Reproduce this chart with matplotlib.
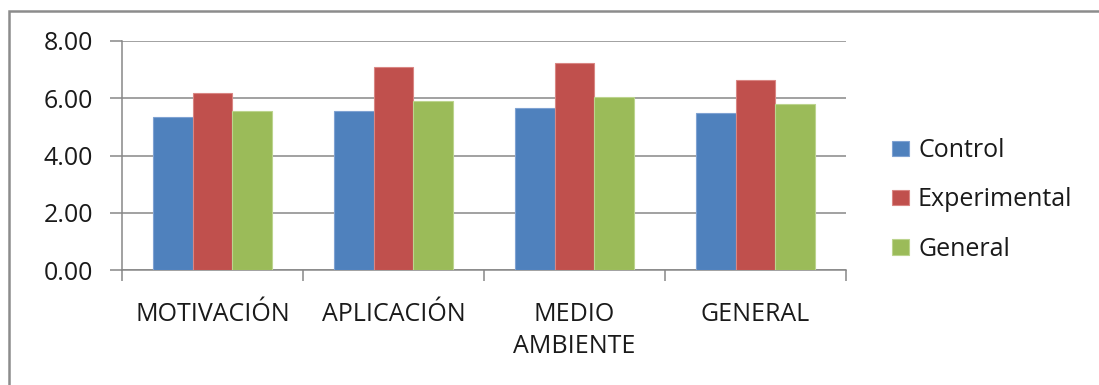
import matplotlib
matplotlib.use("Agg")
import matplotlib.pyplot as plt
import numpy as np
from matplotlib.patches import Rectangle
from matplotlib.ticker import FormatStrFormatter, FixedLocator

plt.rcParams['font.family'] = ['Open Sans', 'DejaVu Sans']

categories = ["MOTIVACIÓN", "APLICACIÓN", "MEDIO\nAMBIENTE", "GENERAL"]
series_names = ["Control", "Experimental", "General"]
control = [5.34, 5.57, 5.65, 5.48]
experimental = [6.20, 7.10, 7.23, 6.64]
general = [5.57, 5.92, 6.06, 5.79]
series_values = [control, experimental, general]
colors = ["#4F81BD", "#C0504D", "#9BBB59"]
edges = ["#7FA2D2", "#D98683", "#BCD48E"]

grid_color = "#878787"
font_size = 18

fig = plt.figure(figsize=(10.99, 3.85), dpi=100)
fig.patch.set_facecolor("white")

# outer chart frame
fig.patches.append(Rectangle((8.5 / 1099, -0.05), 1.2, 1 - 10.5 / 385 + 0.05,
                             transform=fig.transFigure, fill=False,
                             edgecolor="#8C8C8C", linewidth=1.8))

ax = fig.add_axes([122 / 1099, 1 - 270 / 385, (846 - 122) / 1099, (270 - 41) / 385])

x = np.arange(len(categories))
bar_w = 0.22
offsets = [-bar_w, 0, bar_w]
for vals, name, c, e, off in zip(series_values, series_names, colors, edges, offsets):
    ax.bar(x + off, vals, width=bar_w, color=c, edgecolor=e, linewidth=0.8,
           label=name, zorder=3)

ax.set_xlim(-0.5, len(categories) - 0.5)
ax.set_ylim(0, 8)
ax.set_yticks(np.arange(0, 8.01, 2))
ax.yaxis.set_major_formatter(FormatStrFormatter("%.2f"))
ax.yaxis.grid(True, color=grid_color, linewidth=1.1, zorder=0)
ax.set_axisbelow(True)

ax.set_xticks(x)
ax.set_xticklabels(categories, fontsize=font_size, linespacing=1.38)
ax.xaxis.set_minor_locator(FixedLocator(np.arange(-0.5, len(categories), 1.0)))
ax.tick_params(axis="x", which="major", length=0, pad=23)
ax.tick_params(axis="x", which="minor", length=8, width=1.1, color=grid_color,
               direction="out")
ax.tick_params(axis="y", length=9, width=1.1, color=grid_color, pad=12,
               labelsize=font_size)

for side in ["top", "right"]:
    ax.spines[side].set_visible(False)
for side in ["left", "bottom"]:
    ax.spines[side].set_color(grid_color)
    ax.spines[side].set_linewidth(1.1)

for lbl in ax.get_xticklabels() + ax.get_yticklabels():
    lbl.set_color("#1A1A1A")

leg = fig.legend(loc="center left", bbox_to_anchor=(892 / 1099, 1 - 200 / 385),
                 frameon=False, fontsize=font_size, handlelength=0.68,
                 handleheight=0.58, handletextpad=0.36, labelspacing=0.97,
                 borderpad=0, borderaxespad=0)
for t in leg.get_texts():
    t.set_color("#1A1A1A")

fig.savefig("out.png", dpi=100, facecolor="white")
